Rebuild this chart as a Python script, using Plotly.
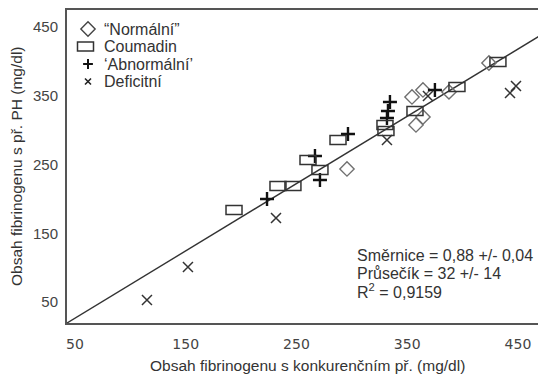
import plotly.graph_objects as go

# ---------------- data ----------------
normal_x = [295.6, 354.3, 364.2, 364.2, 357.9, 387.7, 423.8]
normal_y = [243.5, 348.2, 358.4, 319.1, 307.5, 355.5, 397.6]

coumadin_x = [193.6, 233.3, 246.8, 260.4, 271.2, 287.5, 329.9, 330.8, 357.0, 394.9, 431.9]
coumadin_y = [183.8, 218.7, 218.7, 256.5, 242.0, 285.6, 307.5, 298.7, 327.8, 362.7, 399.0]

abnormal_x = [223.4, 266.7, 271.2, 296.5, 334.4, 332.6, 331.7, 375.0]
abnormal_y = [199.8, 262.4, 227.5, 294.4, 340.9, 327.8, 317.6, 358.4]

deficit_x = [115.0, 152.0, 231.5, 331.7, 368.7, 442.8, 448.2]
deficit_y = [52.9, 100.9, 172.2, 285.6, 349.6, 354.0, 364.2]

fit_x = [42.8, 475.3]
fit_y = [19.5, 442.7]

tick_vals = [50, 150, 250, 350, 450]
tick_text = ["50", "150", "250", "350", "450"]

legend_labels = ["\u201cNormální\u201d", "Coumadin", "\u2018Abnormální\u2019", "Deficitní"]
stats_lines = ["Směrnice = 0,88 +/- 0,04", "Průsečík = 32 +/- 14", "R<sup>2</sup> = 0,9159"]

x_title = "Obsah fibrinogenu s konkurenčním př. (mg/dl)"
y_title = "Obsah fibrinogenu s př. PH (mg/dl)"

# ---------------- layout helpers ----------------
OFF = 8                      # page body margin of the browser
W, H = 546 - OFF, 376 - OFF  # figure size so it fits the window
ML, MR, MT, MB = 67 - OFF, 0, 10 - OFF, 53
PW, PH = W - ML - MR, H - MT - MB


def px2paper(px, py):
    """window pixel -> paper coordinates of the plot area"""
    fx, fy = px - OFF, py - OFF
    return (fx - ML) / PW, (H - MB - fy) / PH


FONT = "Liberation Sans, Arial, sans-serif"
TXT = "#333333"

fig = go.Figure()

# regression line
fig.add_trace(go.Scatter(x=fit_x, y=fit_y, mode="lines",
                         line=dict(color="#333333", width=1.4),
                         showlegend=False, hoverinfo="skip"))

fig.add_trace(go.Scatter(x=normal_x, y=normal_y, mode="markers", name=legend_labels[0],
                         marker=dict(symbol="diamond-open", size=11, color="#707070",
                                     line=dict(color="#707070", width=1.4)),
                         showlegend=False))
fig.add_trace(go.Scatter(x=abnormal_x, y=abnormal_y, mode="markers", name=legend_labels[2],
                         marker=dict(symbol="cross-thin-open", size=10, color="#111111",
                                     line=dict(color="#111111", width=2.4)),
                         showlegend=False))
fig.add_trace(go.Scatter(x=deficit_x, y=deficit_y, mode="markers", name=legend_labels[3],
                         marker=dict(symbol="x-thin-open", size=10, color="#333333",
                                     line=dict(color="#333333", width=1.5)),
                         showlegend=False))

# Coumadin rectangles (pixel-sized, anchored on data)
shapes = []
for cx, cy in zip(coumadin_x, coumadin_y):
    shapes.append(dict(type="rect", xref="x", yref="y",
                       xsizemode="pixel", ysizemode="pixel",
                       xanchor=cx, yanchor=cy,
                       x0=-8, x1=8, y0=-4.5, y1=4.5,
                       line=dict(color="#333333", width=1.5),
                       fillcolor="rgba(0,0,0,0)"))

# ---------------- custom legend ----------------
leg_rows_py = [29, 46.5, 64, 81.5]
sym_px = 88
text_px = 102
annotations = []
for lab, py in zip(legend_labels, leg_rows_py):
    xp, yp = px2paper(text_px, py)
    annotations.append(dict(x=xp, y=yp, xref="paper", yref="paper", text=lab,
                            showarrow=False, xanchor="left", yanchor="middle",
                            font=dict(family=FONT, size=16, color=TXT)))

sx, sy0 = px2paper(sym_px, leg_rows_py[0])
_, sy2 = px2paper(sym_px, leg_rows_py[2])
_, sy3 = px2paper(sym_px, leg_rows_py[3])
fig.add_trace(go.Scatter(x=[sx], y=[sy0], xaxis="x2", yaxis="y2", mode="markers",
                         marker=dict(symbol="diamond-open", size=11, color="#444444",
                                     line=dict(color="#444444", width=1.4)),
                         showlegend=False, hoverinfo="skip"))
fig.add_trace(go.Scatter(x=[sx], y=[sy2], xaxis="x2", yaxis="y2", mode="markers",
                         marker=dict(symbol="cross-thin-open", size=7, color="#111111",
                                     line=dict(color="#111111", width=2)),
                         showlegend=False, hoverinfo="skip"))
fig.add_trace(go.Scatter(x=[sx], y=[sy3], xaxis="x2", yaxis="y2", mode="markers",
                         marker=dict(symbol="x-thin-open", size=6, color="#222222",
                                     line=dict(color="#222222", width=1.6)),
                         showlegend=False, hoverinfo="skip"))
rx, ry = px2paper(85.5, leg_rows_py[1])
shapes.append(dict(type="rect", xref="paper", yref="paper",
                   xsizemode="pixel", ysizemode="pixel", xanchor=rx, yanchor=ry,
                   x0=-8, x1=8, y0=-4.5, y1=4.5,
                   line=dict(color="#333333", width=1.5), fillcolor="rgba(0,0,0,0)"))

# stats text
for line, py in zip(stats_lines, [255, 273, 291]):
    xp, yp = px2paper(355, py)
    annotations.append(dict(x=xp, y=yp, xref="paper", yref="paper", text=line,
                            showarrow=False, xanchor="left", yanchor="middle",
                            font=dict(family=FONT, size=16, color=TXT)))

# axis titles
xp, yp = px2paper(307, 365)
annotations.append(dict(x=xp, y=yp, xref="paper", yref="paper", text=x_title,
                        showarrow=False, xanchor="center", yanchor="middle",
                        font=dict(family=FONT, size=15.5, color=TXT)))
xp, yp = px2paper(16, 166)
annotations.append(dict(x=xp, y=yp, xref="paper", yref="paper", text=y_title,
                        showarrow=False, xanchor="center", yanchor="middle", textangle=-90,
                        font=dict(family=FONT, size=15.5, color=TXT)))

fig.update_layout(
    width=W, height=H,
    margin=dict(l=ML, r=MR, t=MT, b=MB),
    paper_bgcolor="white", plot_bgcolor="white",
    showlegend=False,
    shapes=shapes,
    annotations=annotations,
    xaxis=dict(range=[42.8, 475.3], tickvals=tick_vals, ticktext=tick_text,
               showgrid=False, zeroline=False, showline=True, mirror=True,
               linecolor="#555555", linewidth=2, ticks="",
               ticklabelstandoff=7,
               tickfont=dict(family="DejaVu Sans, sans-serif", size=14, color="#444444")),
    yaxis=dict(range=[19.5, 474.7], tickvals=tick_vals, ticktext=tick_text,
               showgrid=False, zeroline=False, showline=True, mirror=False,
               linecolor="#555555", linewidth=2, ticks="",
               ticklabelstandoff=4,
               tickfont=dict(family=FONT, size=15, color="#444444")),
    xaxis2=dict(range=[0, 1], overlaying="x", visible=False, fixedrange=True),
    yaxis2=dict(range=[0, 1], overlaying="y", visible=False, fixedrange=True),
)

fig.write_html("out.html")
